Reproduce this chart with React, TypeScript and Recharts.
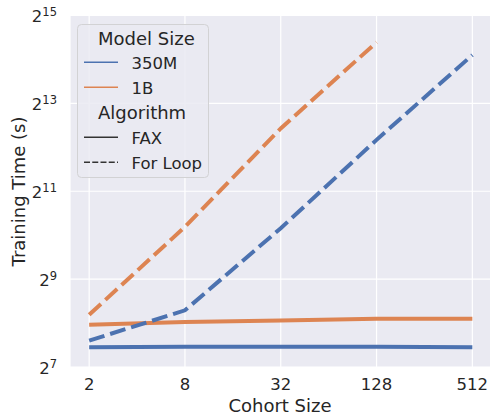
import React from 'react';
import { LineChart, Line, XAxis, YAxis, CartesianGrid } from 'recharts';

// cohort sizes (x) and training times in seconds
const cohortSizes = [2, 8, 32, 128, 512];
const fax350M = [175, 176, 176, 176, 175];
const fax1B = [249, 260, 267, 274, 274];
const loop350M = [194, 313, 1144, 4608, 17560];
const loop1B: (number | null)[] = [292, 1168, 5518, 21470, null];
const yTickExps = [7, 9, 11, 13, 15];

const data = cohortSizes.map((c, i) => ({
  cohort: c,
  fax350M: fax350M[i],
  fax1B: fax1B[i],
  loop350M: loop350M[i],
  loop1B: loop1B[i],
}));

const BLUE = '#4C72B0';
const ORANGE = '#DD8452';
const TEXT = '#262626';
const FONT = '"DejaVu Sans", sans-serif';

const XTick = (props: any) => {
  const { x, y, payload } = props;
  return (
    <text x={x} y={y + 23} textAnchor="middle" fontSize={16.5} fill={TEXT} fontFamily={FONT}>
      {payload.value}
    </text>
  );
};

const YTick = (props: any) => {
  const { x, y, payload } = props;
  const exp = Math.round(Math.log2(payload.value));
  return (
    <text x={x - 13} y={y + 6.7} textAnchor="end" fontSize={16.5} fill={TEXT} fontFamily={FONT}>
      2
      <tspan fontSize={11.5} dy={-6}>
        {exp}
      </tspan>
    </text>
  );
};

function LegendBox() {
  const row = (y: number, label: string, color: string, dash?: string) => (
    <g>
      <line x1={84} x2={118} y1={y} y2={y} stroke={color} strokeWidth={1.6} strokeDasharray={dash} />
      <text x={131.5} y={y + 7} fontSize={16.5} fill={TEXT} fontFamily={FONT}>
        {label}
      </text>
    </g>
  );
  return (
    <svg width={490} height={416} style={{ position: 'absolute', left: 0, top: 0, pointerEvents: 'none' }}>
      <rect x={77.5} y={24.5} width={131} height={153} rx={4} fill="#EAEAF2" fillOpacity={0.85} stroke="#d2d2d4" />
      <text x={98} y={45} fontSize={18} fill={TEXT} fontFamily={FONT}>
        Model Size
      </text>
      {row(62.3, '350M', BLUE)}
      {row(87.3, '1B', ORANGE)}
      <text x={98} y={119.3} fontSize={18} fill={TEXT} fontFamily={FONT}>
        Algorithm
      </text>
      {row(137.3, 'FAX', '#333333')}
      {row(162.3, 'For Loop', '#333333', '6 2.25')}
    </svg>
  );
}

export default function App() {
  return (
    <div style={{ position: 'absolute', left: 0, top: 0, width: 490, height: 416, overflow: 'hidden', background: '#fff' }}>
      <LineChart
        width={500}
        height={416}
        data={data}
        margin={{ top: 15.5, right: 8.5, bottom: 0, left: 0 }}
        style={{ fontFamily: FONT }}
      >
        <CartesianGrid fill="#EAEAF2" stroke="#ffffff" strokeWidth={1.2} />
        <XAxis
          dataKey="cohort"
          type="number"
          scale="log"
          domain={[Math.pow(2, 0.6), Math.pow(2, 9.4)]}
          ticks={cohortSizes}
          allowDataOverflow
          height={49}
          axisLine={false}
          tickLine={false}
          tickSize={0}
          tickMargin={0}
          tick={<XTick />}
          label={{
            content: () => (
              <text x={280} y={412} textAnchor="middle" fontSize={18} fill={TEXT} fontFamily={FONT}>
                Cohort Size
              </text>
            ),
          }}
        />
        <YAxis
          type="number"
          scale="log"
          domain={[128, 32768]}
          ticks={yTickExps.map((e) => Math.pow(2, e))}
          allowDataOverflow
          width={70}
          axisLine={false}
          tickLine={false}
          tickSize={0}
          tickMargin={0}
          tick={<YTick />}
          label={{
            content: () => (
              <text
                x={25}
                y={191.5}
                textAnchor="middle"
                fontSize={18}
                fill={TEXT}
                fontFamily={FONT}
                transform="rotate(-90, 25, 191.5)"
              >
                Training Time (s)
              </text>
            ),
          }}
        />
        <Line dataKey="fax350M" stroke={BLUE} strokeWidth={4} dot={false} isAnimationActive={false} />
        <Line dataKey="fax1B" stroke={ORANGE} strokeWidth={4} dot={false} isAnimationActive={false} />
        <Line
          dataKey="loop350M"
          stroke={BLUE}
          strokeWidth={4}
          strokeDasharray="16 6"
          dot={false}
          isAnimationActive={false}
        />
        <Line
          dataKey="loop1B"
          stroke={ORANGE}
          strokeWidth={4}
          strokeDasharray="16 6"
          dot={false}
          isAnimationActive={false}
        />
      </LineChart>
      <LegendBox />
    </div>
  );
}
